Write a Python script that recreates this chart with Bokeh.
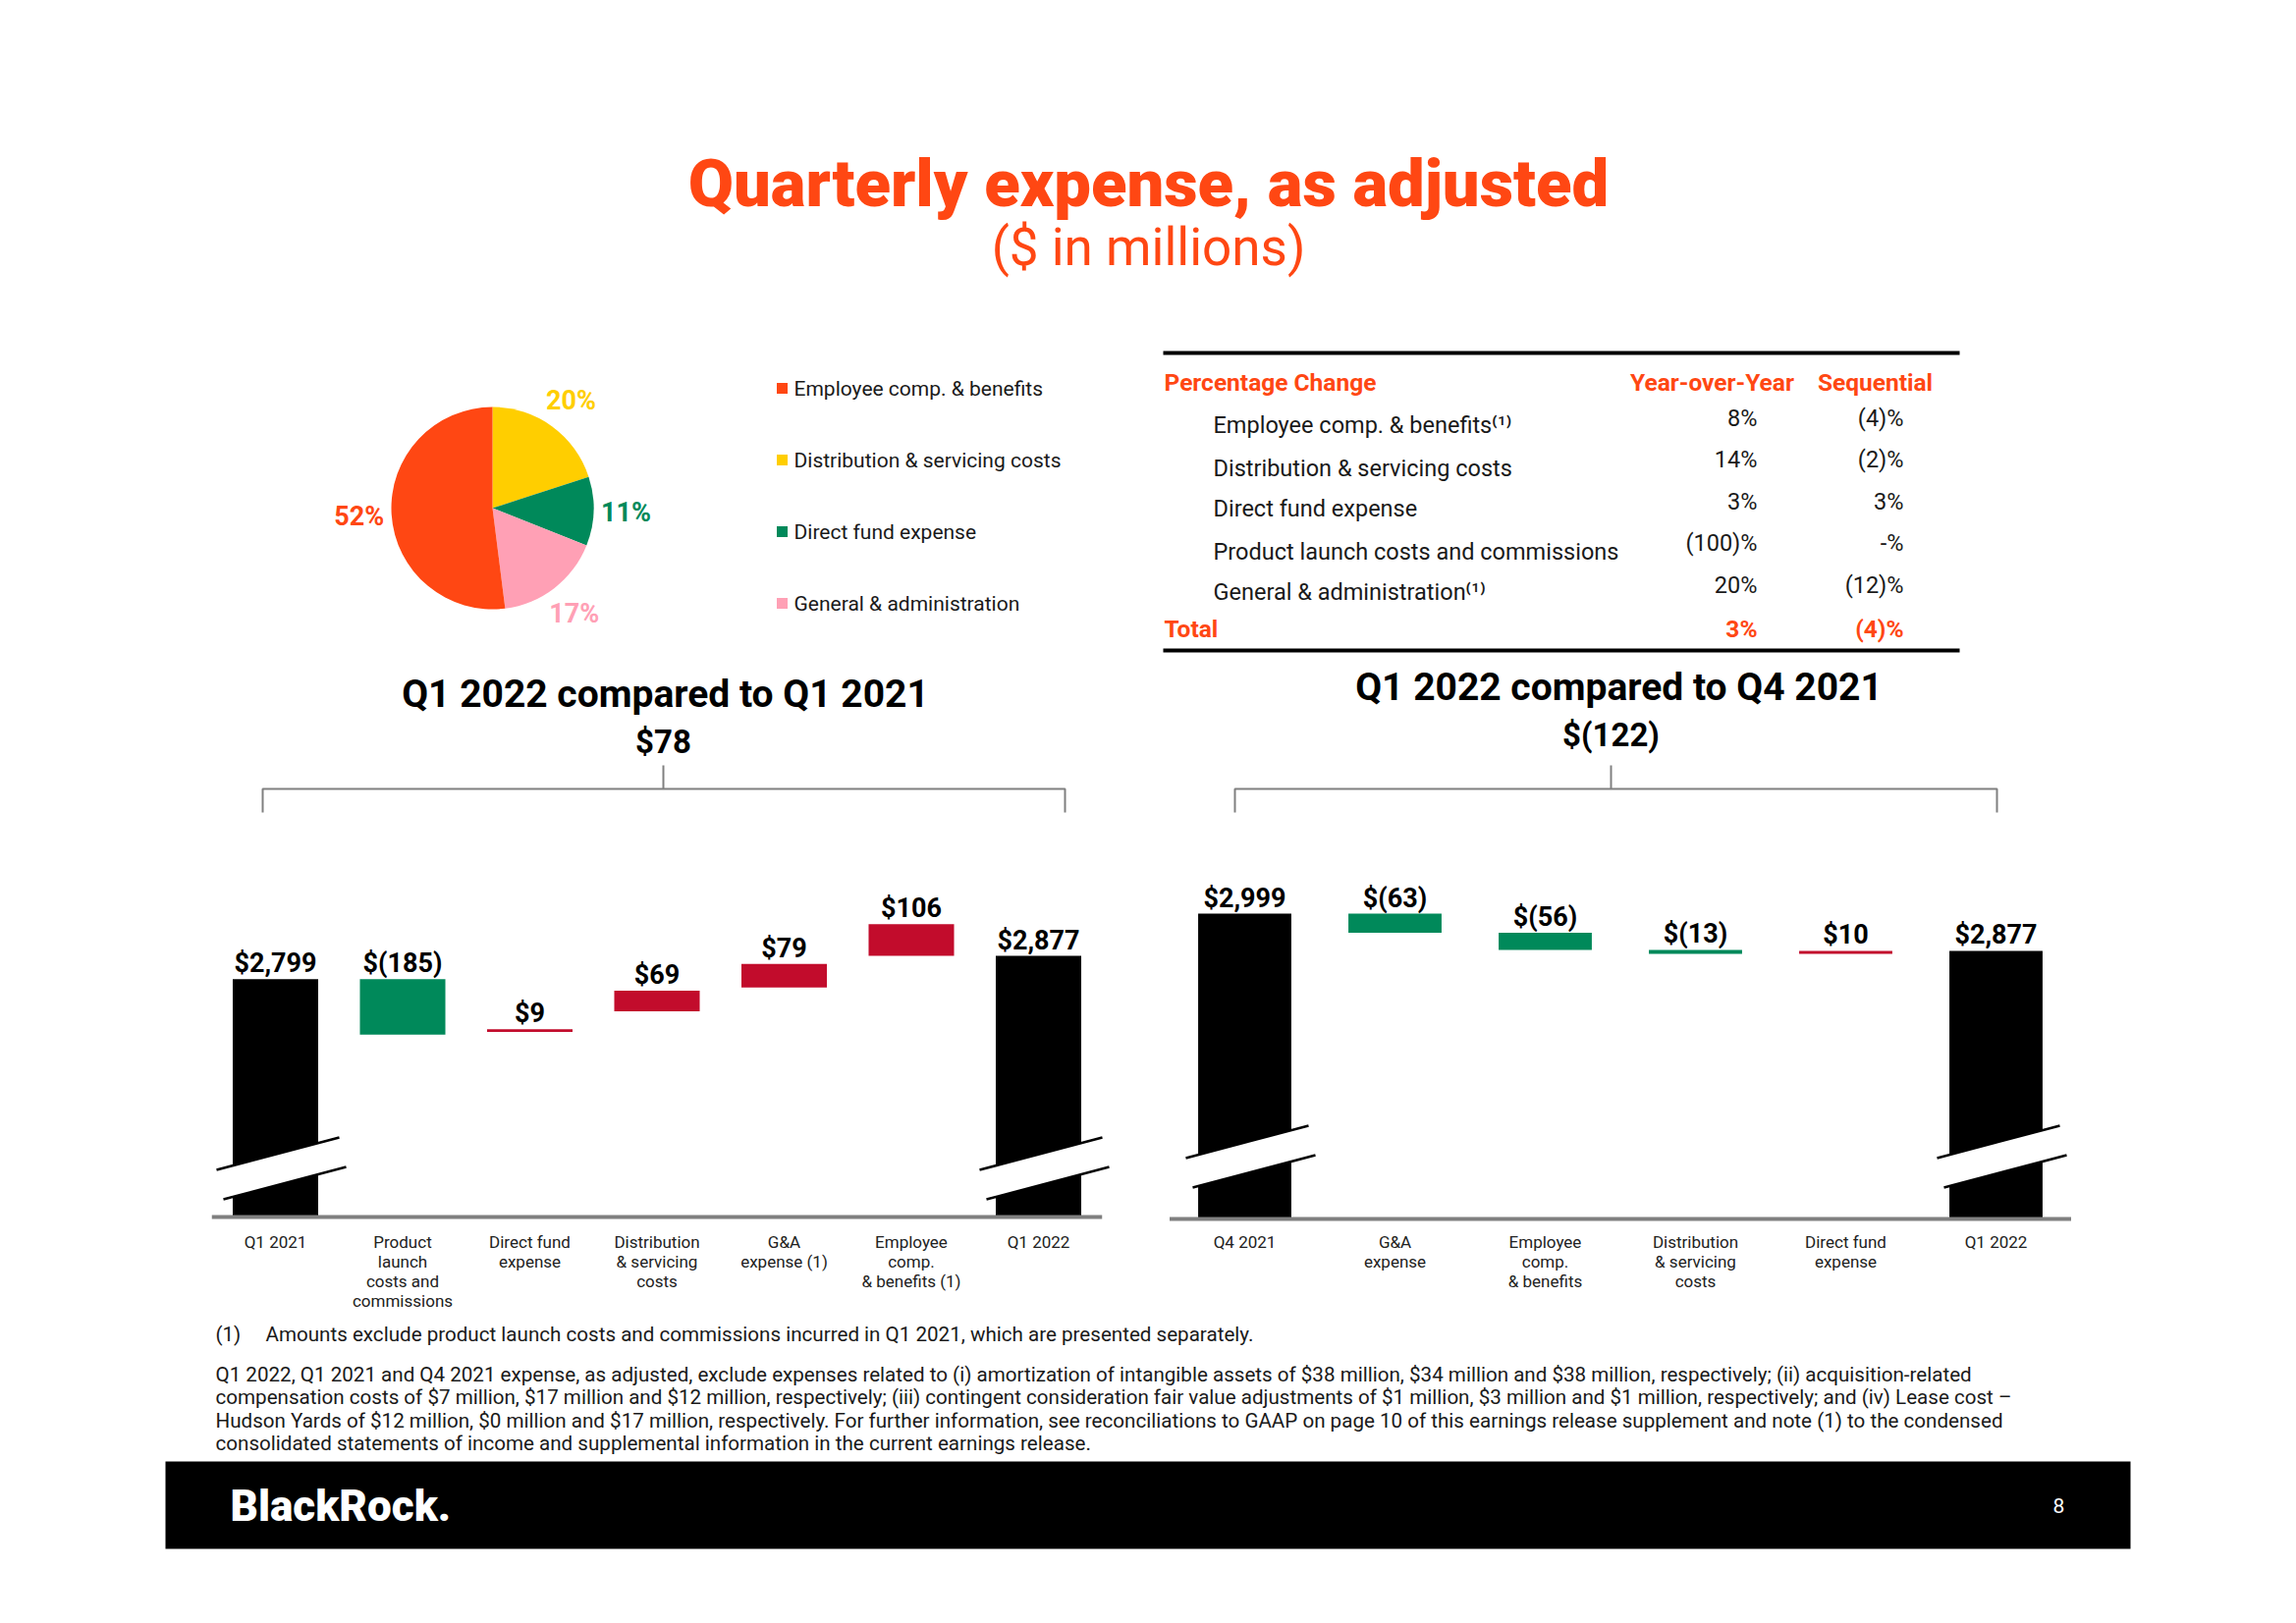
import numpy as np
from bokeh.plotting import figure
from bokeh.models import Range1d
from bokeh.core.properties import value
from bokeh.embed import file_html
from bokeh.resources import INLINE

# ---------------- data ----------------
pie_categories = ["Employee comp. & benefits", "Distribution & servicing costs",
                  "Direct fund expense", "General & administration"]
pie_shares = [52, 20, 11, 17]
pie_clockwise_order = [1, 2, 3, 0]   # drawing order, clockwise from 12 o'clock

table_rows = ["Employee comp. & benefits\u207d\u00b9\u207e", "Distribution & servicing costs",
              "Direct fund expense", "Product launch costs and commissions",
              "General & administration\u207d\u00b9\u207e"]
table_yoy = ["8%", "14%", "3%", "(100)%", "20%"]
table_seq = ["(4)%", "(2)%", "3%", "-%", "(12)%"]
total_yoy = "3%"
total_seq = "(4)%"

left_categories = ["Q1 2021", "Product\nlaunch\ncosts and\ncommissions", "Direct fund\nexpense",
                   "Distribution\n& servicing\ncosts", "G&A\nexpense (1)",
                   "Employee\ncomp.\n& benefits (1)", "Q1 2022"]
left_start = 2799
left_changes = [-185, 9, 69, 79, 106]
left_end = 2877
left_total_change = 78

right_categories = ["Q4 2021", "G&A\nexpense", "Employee\ncomp.\n& benefits",
                    "Distribution\n& servicing\ncosts", "Direct fund\nexpense", "Q1 2022"]
right_start = 2999
right_changes = [-63, -56, -13, 10]
right_end = 2877
right_total_change = -122

footnote_1 = "Amounts exclude product launch costs and commissions incurred in Q1 2021, which are presented separately."
footnote_lines = [
    "Q1 2022, Q1 2021 and Q4 2021 expense, as adjusted, exclude expenses related to (i) amortization of intangible assets of $38 million, $34 million and $38 million, respectively; (ii) acquisition-related",
    "compensation costs of $7 million, $17 million and $12 million, respectively; (iii) contingent consideration fair value adjustments of $1 million, $3 million and $1 million, respectively; and (iv) Lease cost \u2013",
    "Hudson Yards of $12 million, $0 million and $17 million, respectively. For further information, see reconciliations to GAAP on page 10 of this earnings release supplement and note (1) to the condensed",
    "consolidated statements of income and supplemental information in the current earnings release.",
]

# ---------------- styles ----------------
ORANGE = "#FF4713"
RED = "#C20C2C"
GREEN = "#00895A"
YELLOW = "#FFCE00"
PINK = "#FFA0B5"
GRAY = "#808080"
TEXT = "#1A1A1A"
pie_colors = [ORANGE, YELLOW, GREEN, PINK]
FONT = "Roboto"
HEAVY = "Roboto Black"

W, H = 2322, 1637
PX0, PY0 = 0, 0     # page position of the canvas
p = figure(width=W, height=H, output_backend="svg", toolbar_location=None,
           x_range=Range1d(PX0, PX0 + W), y_range=Range1d(0, H),
           min_border=0, x_axis_location=None, y_axis_location=None,
           background_fill_color="white", border_fill_color="white")
p.grid.visible = False
p.outline_line_color = None


def Y(v):
    return PY0 + H - v


def txt(x, y, s, size, color=TEXT, bold=False, align="left", baseline="middle", font=FONT, **kw):
    p.text(x=[x], y=[Y(y)], text=[s], text_font=value(font), text_font_size=f"{size}px",
           text_font_style="bold" if bold else "normal", text_color=color,
           text_align=align, text_baseline=baseline, **kw)


def money(v):
    return f"${v:,}" if v >= 0 else f"$({-v:,})"


# ---------------- title ----------------
txt(1169, 186, "Quarterly expense, as adjusted", 67, ORANGE, bold=True, align="center", font=HEAVY)
txt(1169, 251, "($ in millions)", 53, ORANGE, align="center")

# ---------------- pie ----------------
PCX, PCY, PR = 501, 517, 103
shares = np.array(pie_shares, dtype=float)
ang = 90.0
st, en, cols, lx, ly, lt = [], [], [], [], [], []
for k in pie_clockwise_order:
    sweep = shares[k] / shares.sum() * 360.0
    en.append(np.deg2rad(ang))
    st.append(np.deg2rad(ang - sweep))
    cols.append(pie_colors[k])
    mid = np.deg2rad(ang - sweep / 2)
    lx.append(PCX + 1.32 * PR * np.cos(mid))
    ly.append(Y(PCY) + 1.32 * PR * np.sin(mid))
    lt.append(f"{pie_shares[k]}%")
    ang -= sweep
p.wedge(x=PCX, y=Y(PCY), radius=PR, start_angle=st, end_angle=en, direction="anticlock",
        fill_color=cols, line_color=None)
p.text(x=lx, y=ly, text=lt, text_color=cols, text_font=value(FONT), text_font_size="27px",
       text_font_style="bold", text_align="center", text_baseline="middle")

# legend
leg_y = [395, 468, 541, 614]
p.rect(x=796, y=[Y(v) for v in leg_y], width=11, height=11, fill_color=pie_colors, line_color=None)
p.text(x=808, y=[Y(v) for v in leg_y], text=pie_categories, text_font=value(FONT),
       text_font_size="21px", text_color=TEXT, text_align="left", text_baseline="middle")

# ---------------- table ----------------
p.segment(x0=[1184, 1184], x1=[1995, 1995], y0=[Y(359), Y(662)], y1=[Y(359), Y(662)],
          line_color="black", line_width=4)
txt(1185, 389, "Percentage Change", 24.5, ORANGE, bold=True)
txt(1743, 389, "Year-over-Year", 24.5, ORANGE, bold=True, align="center")
txt(1909, 389, "Sequential", 24.5, ORANGE, bold=True, align="center")
lab_y = [432, 476, 517, 561, 602]
val_y = [425, 467, 510, 552, 595]
p.text(x=1235, y=[Y(v) for v in lab_y], text=table_rows, text_font=value(FONT), text_font_size="23.5px",
       text_color=TEXT, text_align="left", text_baseline="middle")
p.text(x=1789, y=[Y(v) for v in val_y], text=table_yoy, text_font=value(FONT), text_font_size="23.5px",
       text_color=TEXT, text_align="right", text_baseline="middle")
p.text(x=1938, y=[Y(v) for v in val_y], text=table_seq, text_font=value(FONT), text_font_size="23.5px",
       text_color=TEXT, text_align="right", text_baseline="middle")
txt(1185, 640, "Total", 24.5, ORANGE, bold=True)
txt(1789, 640, total_yoy, 24.5, ORANGE, bold=True, align="right")
txt(1938, 640, total_seq, 24.5, ORANGE, bold=True, align="right")

# ---------------- waterfalls ----------------
xr, yr = {}, {}


def waterfall(tag, cats, start, changes, end, x0px, step, base_px, base_v, scale, bar_w,
              shifted, brk_y, title, title_pos, total_change, bracket):
    xr[tag + "x"] = Range1d((PX0 - x0px) / step, (PX0 + W - x0px) / step)
    yr[tag + "y"] = Range1d(base_v + (base_px - (PY0 + H)) / scale, base_v + (base_px - PY0) / scale)
    XR, YR = tag + "x", tag + "y"
    n = len(cats)
    levels = np.cumsum([start] + list(changes))
    lo, hi, col = [], [], []
    for i, c in enumerate(changes):
        before, after = levels[i], levels[i + 1]
        if shifted:
            b, t = after, after + abs(c)
        else:
            b, t = min(before, after), max(before, after)
        lo.append(float(b)); hi.append(float(t))
        col.append(RED if c > 0 else GREEN)
    p.vbar(x=[0, n - 1], bottom=base_v, top=[start, end], width=bar_w, fill_color="black",
           line_color=None, x_range_name=XR, y_range_name=YR)
    p.vbar(x=list(range(1, n - 1)), bottom=lo, top=hi, width=bar_w, fill_color=col,
           line_color=None, x_range_name=XR, y_range_name=YR)
    # axis breaks (page pixels around bar centres)
    for i in (0, n - 1):
        c = x0px + step * i
        xs = [c - 60, c + 65, c + 72, c - 53]
        ys = [brk_y, brk_y - 33, brk_y - 3, brk_y + 30]
        p.patch(x=xs, y=[Y(v) for v in ys], fill_color="white", line_color=None)
        p.segment(x0=[c - 60, c - 53], y0=[Y(brk_y), Y(brk_y + 30)],
                  x1=[c + 65, c + 72], y1=[Y(brk_y - 33), Y(brk_y - 3)],
                  line_color="black", line_width=2.5)
    # baseline
    p.segment(x0=-0.5, x1=n - 0.5, y0=base_v, y1=base_v, line_color=GRAY, line_width=4,
              x_range_name=XR, y_range_name=YR)
    # value labels, centred 16 px above each bar
    tx = list(range(n))
    ty = [v + 16.0 / scale for v in [start] + hi + [end]]
    tt = [money(start)] + [money(c) for c in changes] + [money(end)]
    p.text(x=tx, y=ty, text=tt, text_font=value(FONT), text_font_size="27px", text_font_style="bold",
           text_color="black", text_align="center", text_baseline="middle",
           x_range_name=XR, y_range_name=YR)
    # category labels
    p.text(x=tx, y=Y(1254), text=cats, text_font=value(FONT), text_font_size="17px",
           text_color="#222222", text_align="center", text_baseline="top", text_line_height=1.0,
           x_range_name=XR)
    # heading, total change and bracket
    bl, br, bc = bracket
    txt(title_pos[0], title_pos[1], title, 39, "black", bold=True, align="center")
    txt(bc, title_pos[1] + 49, money(total_change), 33, "black", bold=True, align="center")
    p.multi_line(xs=[[bl, bl, br, br], [bc, bc]],
                 ys=[[Y(827), Y(803), Y(803), Y(827)], [Y(779), Y(803)]],
                 line_color=GRAY, line_width=2)


waterfall("L", left_categories, left_start, left_changes, left_end,
          x0px=280, step=129.5, base_px=1239, base_v=2005, scale=0.305, bar_w=0.672,
          shifted=True, brk_y=1191, title="Q1 2022 compared to Q1 2021", title_pos=(677, 706),
          total_change=left_total_change, bracket=(267, 1084, 675))
waterfall("R", right_categories, right_start, right_changes, right_end,
          x0px=1267, step=153, base_px=1241, base_v=1996, scale=0.31, bar_w=0.62,
          shifted=False, brk_y=1179, title="Q1 2022 compared to Q4 2021", title_pos=(1648, 699),
          total_change=right_total_change, bracket=(1257, 2033, 1640))
p.extra_x_ranges = xr
p.extra_y_ranges = yr

# ---------------- footnotes ----------------
FN = 20.6
txt(219, 1358, "(1)", FN)
txt(270, 1358, footnote_1, FN)
for i, line in enumerate(footnote_lines):
    txt(219, 1399 + 23.5 * i, line, FN)

# ---------------- footer ----------------
p.quad(left=168, right=2169, top=Y(1488), bottom=Y(1577), fill_color="black", line_color=None)
txt(234, 1533, "BlackRock.", 44, "white", bold=True, font=HEAVY)
txt(2096, 1533, "8", 21, "white", align="center")

open("out.html", "w").write(file_html(p, INLINE))
